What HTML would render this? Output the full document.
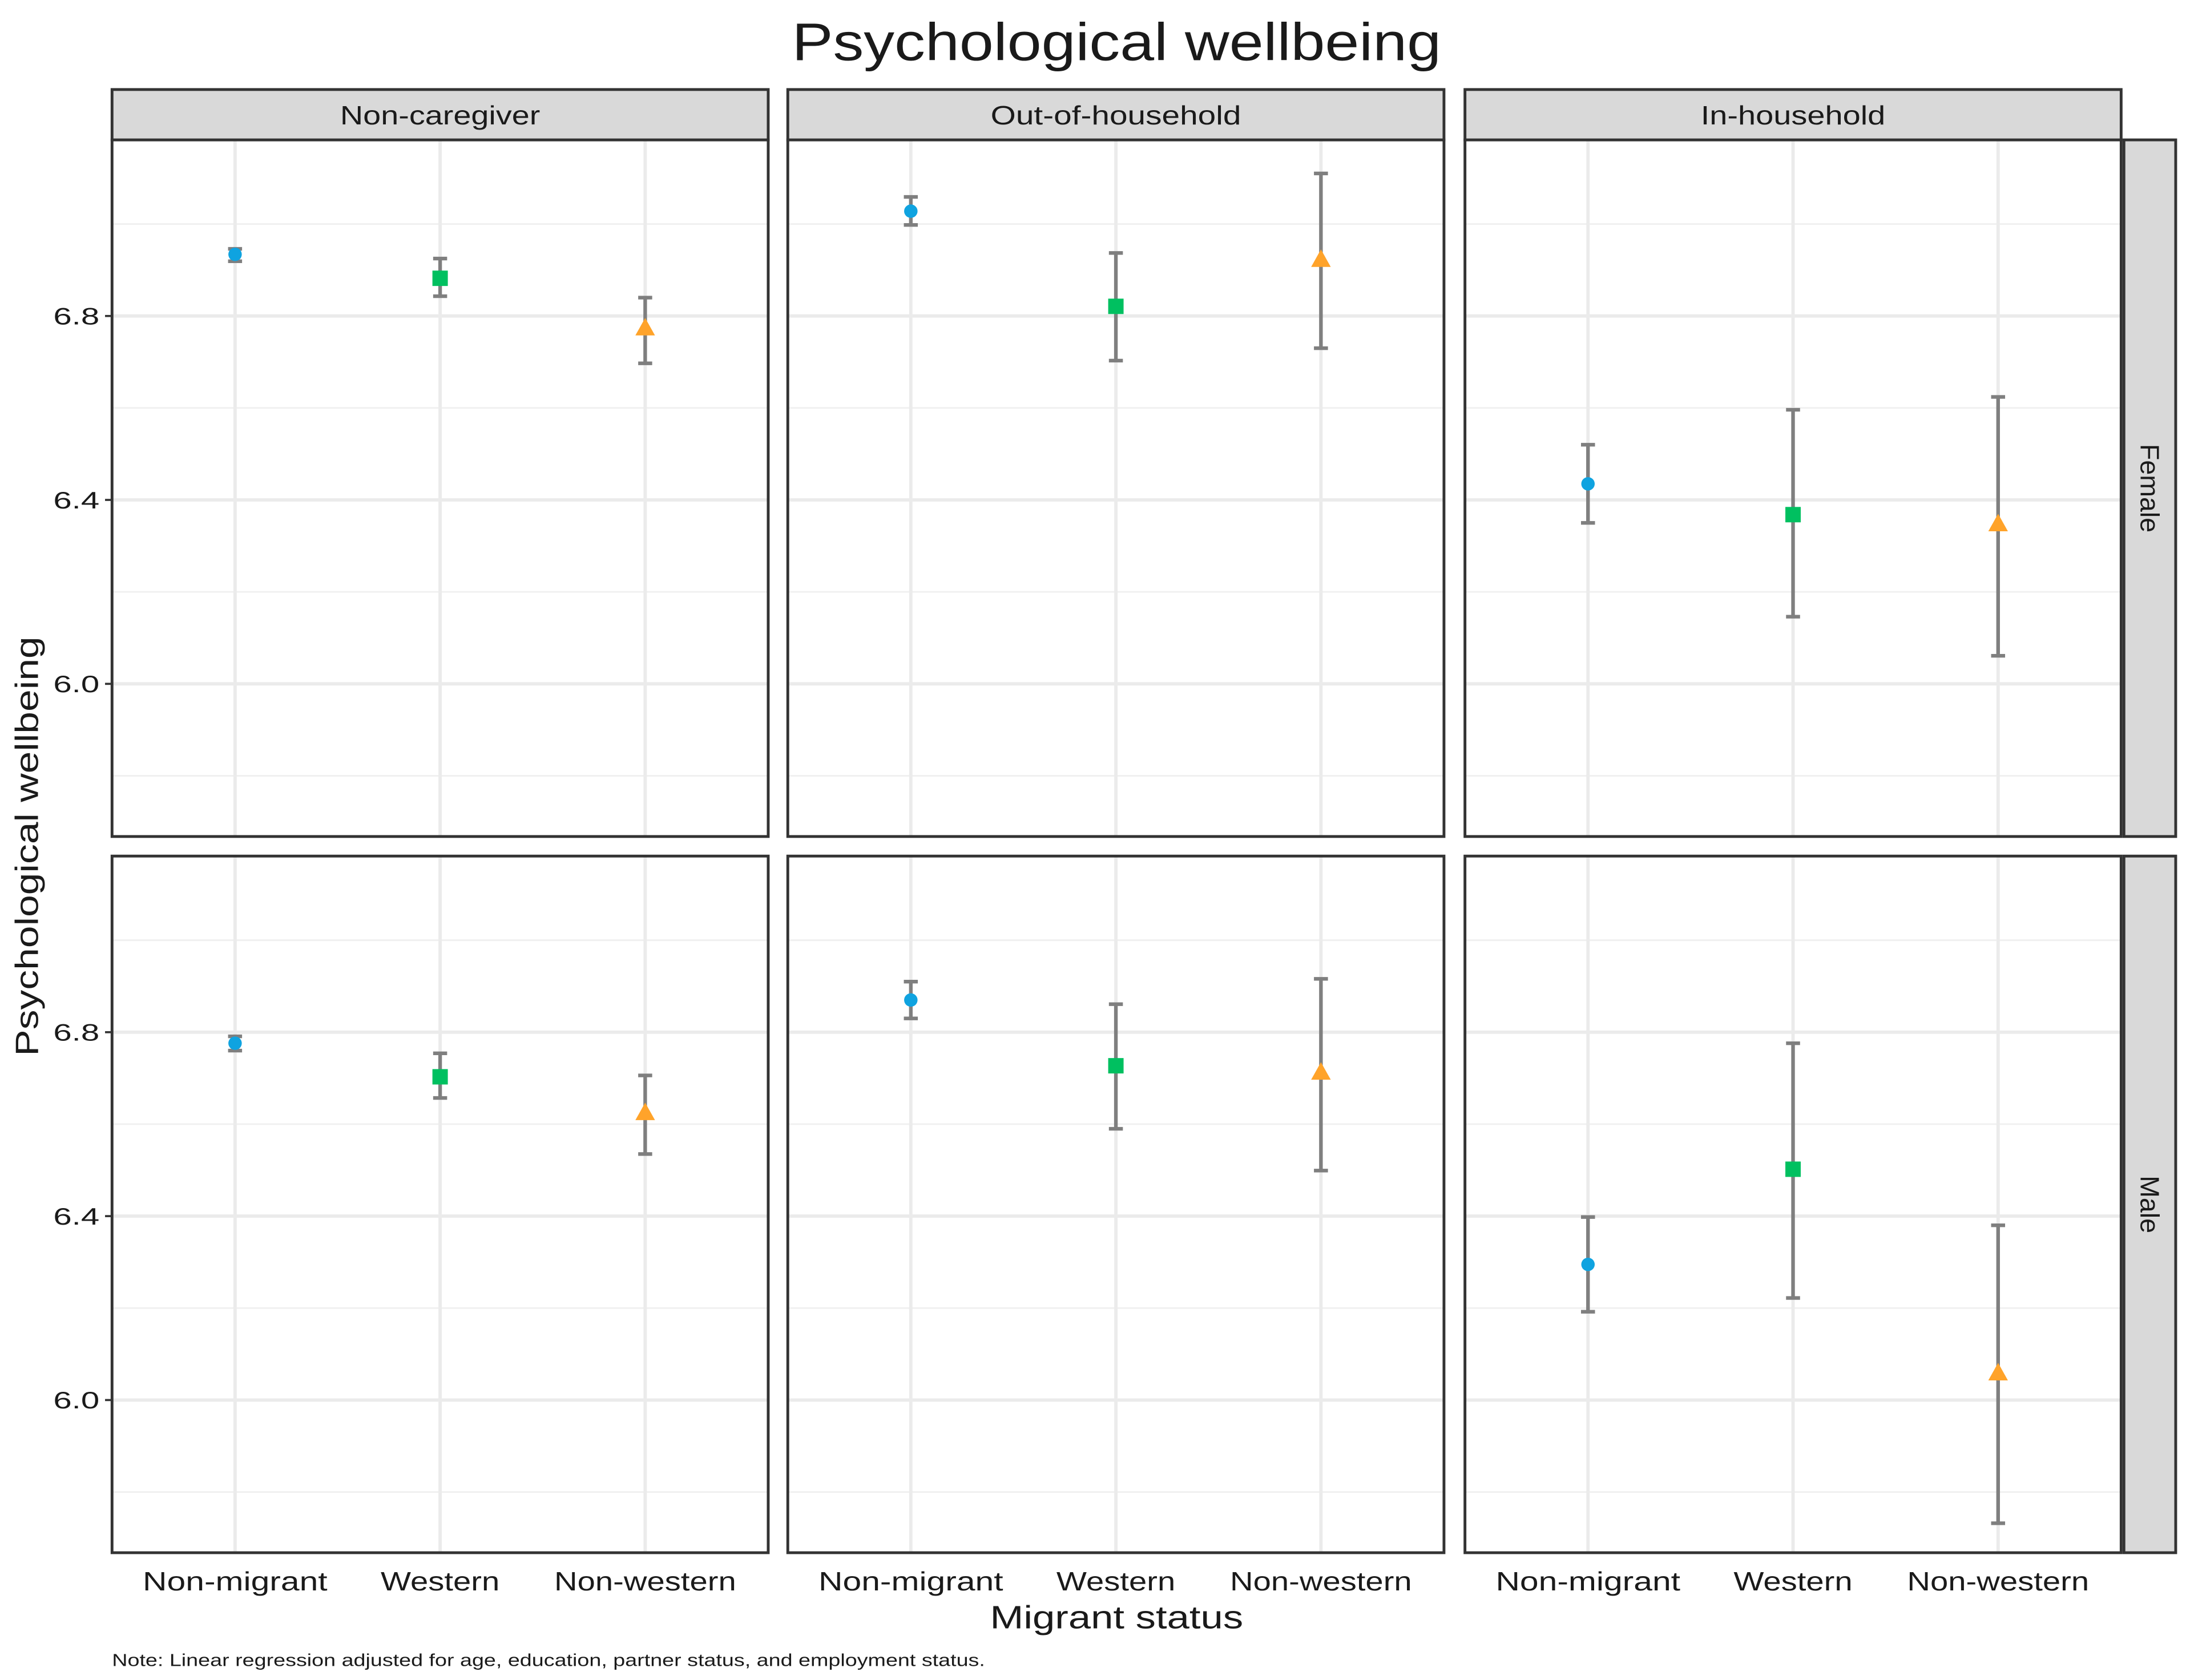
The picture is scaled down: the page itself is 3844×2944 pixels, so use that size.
<!DOCTYPE html>
<html><head><meta charset="utf-8">
<style>html,body{margin:0;padding:0;background:#fff}svg{display:block}text{font-family:"Liberation Sans",sans-serif;fill:#1a1a1a}</style>
</head><body>
<svg id="chart" xmlns="http://www.w3.org/2000/svg" width="3844" height="2944" viewBox="0 0 1568 1201">
<rect width="1568" height="1201" fill="#fff"/>
<text x="798" y="43" font-size="38" text-anchor="middle" fill="#000" textLength="464" lengthAdjust="spacingAndGlyphs">Psychological wellbeing</text>
<text x="798" y="1164" font-size="23" text-anchor="middle" textLength="181" lengthAdjust="spacingAndGlyphs">Migrant status</text>
<text transform="translate(27,605) rotate(-90)" font-size="23" text-anchor="middle" textLength="300" lengthAdjust="spacingAndGlyphs">Psychological wellbeing</text>
<text x="80" y="1191" font-size="12.5" textLength="624" lengthAdjust="spacingAndGlyphs">Note: Linear regression adjusted for age, education, partner status, and employment status.</text>
<g id="panels"></g>
</svg>
<script>
const facetCols = ["Non-caregiver", "Out-of-household", "In-household"];
const facetRows = ["Female", "Male"];
const categories = ["Non-migrant", "Western", "Non-western"];
const yTicks = [6.0, 6.4, 6.8];
const yMinor = [5.8, 6.2, 6.6, 7.0];
const estFemale = [[6.934, 6.882, 6.773], [7.028, 6.821, 6.922], [6.435, 6.368, 6.347]];
const lowFemale = [[6.919, 6.843, 6.697], [6.998, 6.703, 6.730], [6.350, 6.146, 6.061]];
const highFemale = [[6.946, 6.925, 6.840], [7.059, 6.937, 7.110], [6.520, 6.596, 6.624]];
const estMale = [[6.776, 6.703, 6.624], [6.870, 6.727, 6.712], [6.295, 6.502, 6.058]];
const lowMale = [[6.760, 6.657, 6.535], [6.830, 6.590, 6.499], [6.192, 6.222, 5.732]];
const highMale = [[6.791, 6.754, 6.706], [6.910, 6.861, 6.916], [6.398, 6.776, 6.380]];
const colors = ["#0fa3e0", "#00c060", "#ffa32a"];

const NS = "http://www.w3.org/2000/svg";
const g = document.getElementById("panels");
function mk(tag, attrs, parent) { const e = document.createElementNS(NS, tag); for (const k in attrs) e.setAttribute(k, attrs[k]); (parent || g).appendChild(e); return e; }
const colX = [80, 563, 1047], pw = 469;
const rowY = [100, 612], ph = 498;
const yMax = 7.183, yMin = 5.668;
const catWidths = [132, 85, 130];
const stripWidths = [143, 179, 132];
function yScale(v, r) { return rowY[r] + (yMax - v) / (yMax - yMin) * ph; }
function xScale(i, c) { return colX[c] + (i + 1 - 0.4) / 3.2 * pw; }
const est = [estFemale, estMale], low = [lowFemale, lowMale], high = [highFemale, highMale];

for (let r = 0; r < 2; r++) {
  for (let c = 0; c < 3; c++) {
    const x0 = colX[c], y0 = rowY[r];
    yMinor.forEach(v => { const l = mk("line", {x1: x0, x2: x0 + pw, y1: yScale(v, r), y2: yScale(v, r), stroke: "#f0f0f0", "stroke-width": 1.2});
        });
    yTicks.forEach(v => { const l = mk("line", {x1: x0, x2: x0 + pw, y1: yScale(v, r), y2: yScale(v, r), stroke: "#ebebeb", "stroke-width": 2.4});
        });
    categories.forEach((cat, i) => { const l = mk("line", {x1: xScale(i, c), x2: xScale(i, c), y1: y0, y2: y0 + ph, stroke: "#ebebeb", "stroke-width": 2.4});
        });
    categories.forEach((cat, i) => {
      const x = xScale(i, c), yl = yScale(low[r][c][i], r), yh = yScale(high[r][c][i], r);
      const eb = mk("path", {d: `M${x-5},${yh}H${x+5}M${x},${yh}V${yl}M${x-5},${yl}H${x+5}`, stroke: "#7f7f7f", "stroke-width": 2.6, fill: "none"});
       
      const y = yScale(est[r][c][i], r);
      let p;
      if (i === 0) p = mk("circle", {cx: x, cy: y, r: 4.8, fill: colors[0]});
      else if (i === 1) p = mk("rect", {x: x - 5.5, y: y - 5.5, width: 11, height: 11, fill: colors[1]});
      else p = mk("polygon", {points: `${x},${y-7.5} ${x+7},${y+5} ${x-7},${y+5}`, fill: colors[2]});
      
      
    });
    const b = mk("rect", {x: x0, y: y0, width: pw, height: ph, fill: "none", stroke: "#333", "stroke-width": 2});
     
    if (c === 0) {
      yTicks.forEach(v => { const t = mk("text", {x: 71, y: yScale(v, r) + 6, "font-size": 17, "text-anchor": "end", textLength: 33, lengthAdjust: "spacingAndGlyphs"}); t.textContent = v.toFixed(1);
         
        const tk = mk("line", {x1: 75, x2: 80, y1: yScale(v, r), y2: yScale(v, r), stroke: "#333", "stroke-width": 1.5});
          });
    }
    if (r === 1) {
      categories.forEach((cat, i) => { const t = mk("text", {x: xScale(i, c), y: 1137, "font-size": 19, "text-anchor": "middle", textLength: catWidths[i], lengthAdjust: "spacingAndGlyphs"}); t.textContent = cat;
          });
    }
  }
}
facetCols.forEach((name, c) => {
  const s = mk("rect", {x: colX[c], y: 64, width: pw, height: 36, fill: "#d9d9d9", stroke: "#333", "stroke-width": 2});
   
  const t = mk("text", {x: colX[c] + pw / 2, y: 89, "font-size": 19, "text-anchor": "middle", textLength: stripWidths[c], lengthAdjust: "spacingAndGlyphs"}); t.textContent = name;
   
});
facetRows.forEach((name, r) => {
  const s = mk("rect", {x: 1518, y: rowY[r], width: 37, height: ph, fill: "#d9d9d9", stroke: "#333", "stroke-width": 2});
   
  const t = mk("text", {transform: `translate(1530,${rowY[r] + ph / 2}) rotate(90)`, "font-size": 19, "text-anchor": "middle"}); t.textContent = name;
   
});
</script>
</body></html>
